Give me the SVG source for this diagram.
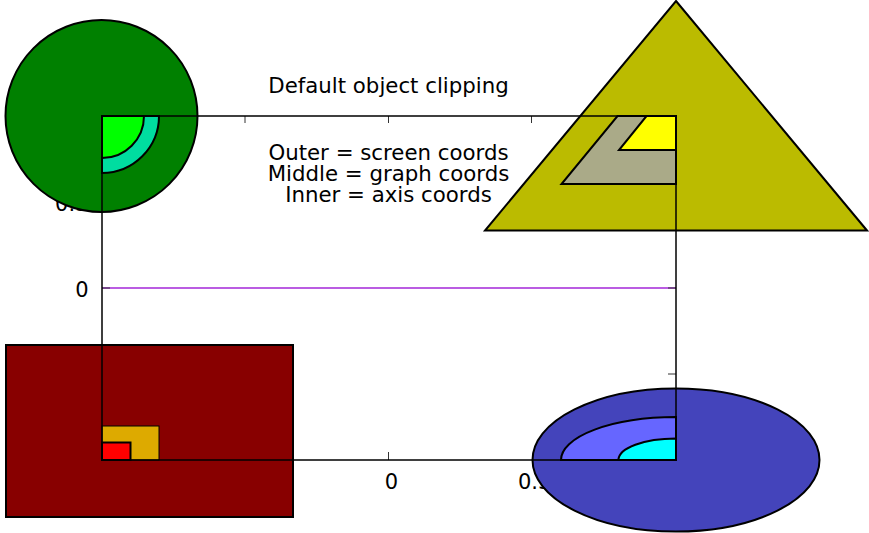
<svg xmlns="http://www.w3.org/2000/svg" width="869" height="533" viewBox="0 0 869 533">
<style>
text{font-family:"DejaVu Sans","Liberation Sans",sans-serif;font-size:21px;fill:#000}
.big{font-size:21.3px}
.obj{stroke:#000;stroke-width:2;stroke-linejoin:miter}
.thin{stroke:#000;stroke-width:1}
.tick{stroke:#333;stroke-width:1;fill:none}
.border{stroke:#000;stroke-width:1.5;fill:none}
</style>
<rect width="869" height="533" fill="#fff"/>
<g id="labels">
<text class="big" x="388.5" y="92.5" text-anchor="middle">Default object clipping</text>
<text class="big" x="388.5" y="159.5" text-anchor="middle">Outer = screen coords</text>
<text class="big" x="388.5" y="180.5" text-anchor="middle">Middle = graph coords</text>
<text class="big" x="388.5" y="201.5" text-anchor="middle">Inner = axis coords</text>
<text x="88.5" y="296.5" text-anchor="end">0</text>
<text x="88.5" y="210.5" text-anchor="end">0.5</text>
<text x="391.5" y="489" text-anchor="middle">0</text>
<text x="518" y="489">0.5</text>
</g>
<g id="plotline">
<line x1="102" y1="288" x2="676" y2="288" stroke="#9400d3" stroke-width="1.3" opacity="0.85"/>
</g>
<g id="ticks">
<path class="tick" d="M245,116v7M388.5,116v7M531.5,116v7M388.5,460v-8M676,374h-8M102,288h8M676,288h-8"/>
</g>
<g id="rect-obj">
<rect class="obj" x="6" y="345" width="287" height="172" fill="#880000"/>
<rect class="thin" x="102" y="426" width="57" height="34" fill="#ddaa00"/>
<rect class="obj" x="102" y="442.5" width="28.5" height="17.5" fill="#ff0000"/>
</g>
<g id="circle-obj">
<circle class="obj" cx="101.5" cy="116" r="96" fill="#008000"/>
<path class="obj" d="M102,116 L159,116 A57,57 0 0 1 102,173 Z" fill="#00dda0"/>
<path class="obj" d="M102,116 L144,116 A42,42 0 0 1 102,158 Z" fill="#00ff00"/>
</g>
<g id="triangle-obj">
<polygon class="obj" points="676,1 867,230.5 485,230.5" fill="#bbbb00"/>
<polygon class="obj" points="617.5,116 676,116 676,184 561.5,184" fill="#aaaa88"/>
<polygon class="obj" points="646.5,116 676,116 676,150 619,150" fill="#ffff00"/>
</g>
<g id="ellipse-obj">
<ellipse class="obj" cx="676" cy="460" rx="143.5" ry="71.5" fill="#4444bb"/>
<path class="obj" d="M676,460 L561,460 A115,43 0 0 1 676,417 Z" fill="#6666ff"/>
<path class="obj" d="M676,460 L618.5,460 A57.5,21.5 0 0 1 676,438.5 Z" fill="#00ffff"/>
</g>
<g id="border">
<rect class="border" x="102" y="116" width="574" height="344"/>
</g>
</svg>
